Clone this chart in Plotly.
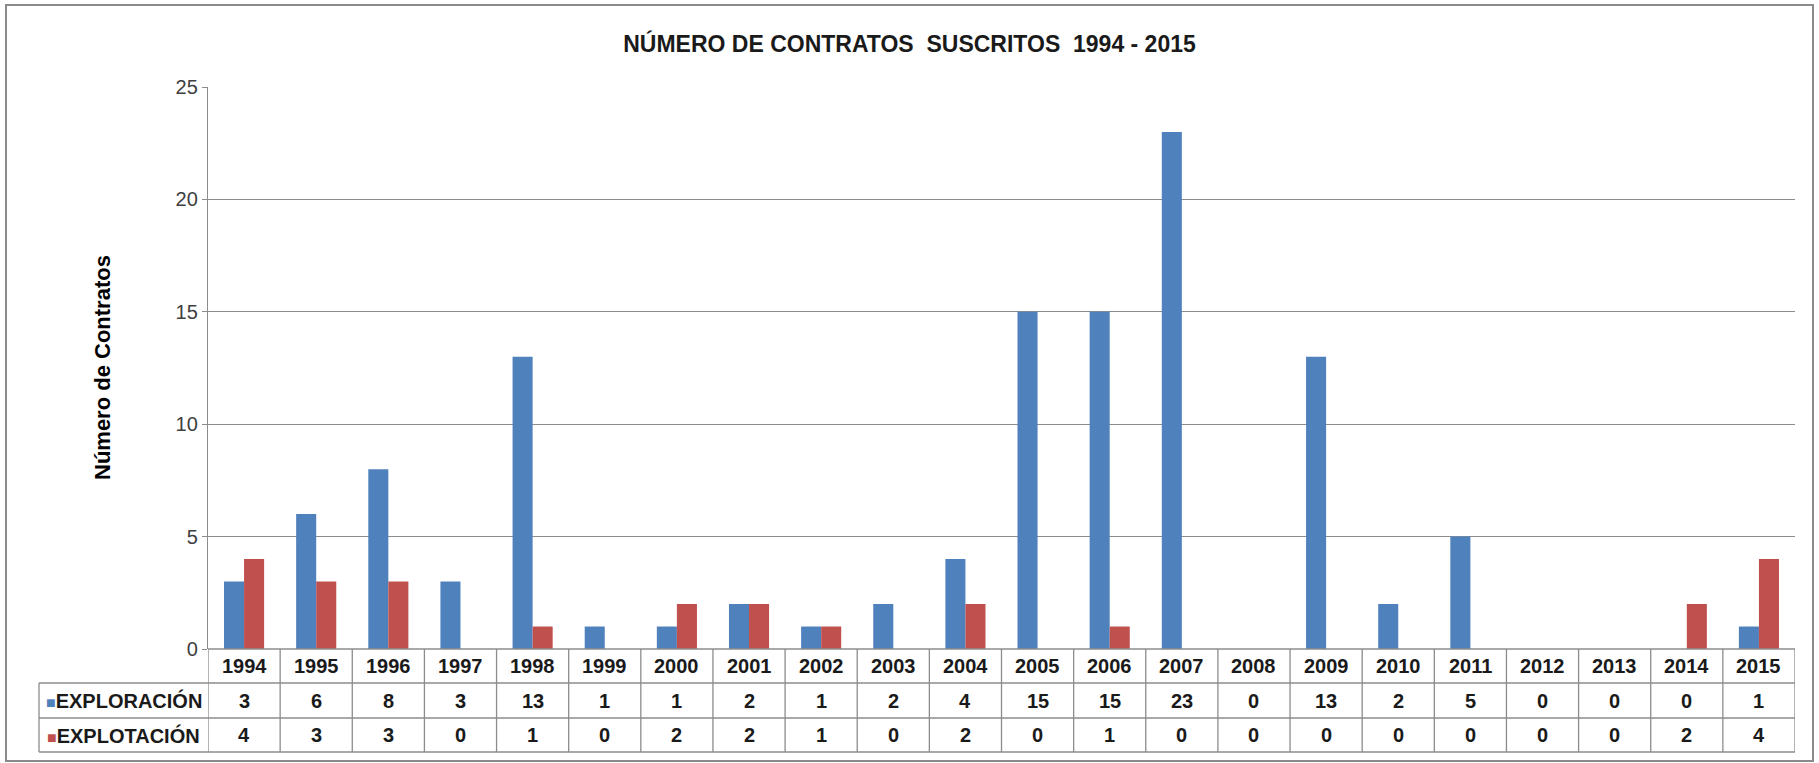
import plotly.graph_objects as go

years = [str(y) for y in range(1994, 2016)]
exploracion = [3, 6, 8, 3, 13, 1, 1, 2, 1, 2, 4, 15, 15, 23, 0, 13, 2, 5, 0, 0, 0, 1]
explotacion = [4, 3, 3, 0, 1, 0, 2, 2, 1, 0, 2, 0, 1, 0, 0, 0, 0, 0, 0, 0, 2, 4]
series_names = ["EXPLORACIÓN", "EXPLOTACIÓN"]
colors = ["#4F81BD", "#C0504D"]
title_text = "NÚMERO DE CONTRATOS&nbsp;&nbsp;SUSCRITOS&nbsp;&nbsp;1994 - 2015"
y_title = "Número de Contratos"

FONT = "Liberation Sans, Arial, sans-serif"
GRID = "#8C8C8C"
W, H = 1819, 763
L, R, T, B = 208, 24, 87, 114
plot_w = W - L - R
plot_h = H - T - B


def px_to_py(ypx):
    return (H - B - ypx) / plot_h


def px_to_px(xpx):
    return (xpx - L) / plot_w


fig = go.Figure()
for name, vals, col in zip(series_names, [exploracion, explotacion], colors):
    fig.add_trace(go.Bar(x=years, y=vals, name=name, marker_color=col,
                         marker_line_width=0, showlegend=False))

row_b = [px_to_py(683), px_to_py(718), px_to_py(752)]
row_c = [px_to_py(666), px_to_py(700.5), px_to_py(735)]
lab_left = px_to_px(39)
lab_center = px_to_px(123.5)

shapes = []
line = dict(color=GRID, width=1.3)
shapes.append(dict(type="line", xref="paper", yref="paper", x0=0, x1=1, y0=0, y1=0, line=line))
for yb in row_b:
    shapes.append(dict(type="line", xref="paper", yref="paper", x0=lab_left, x1=1, y0=yb, y1=yb, line=line))
for i in range(len(years) + 1):
    shapes.append(dict(type="line", xref="x", yref="paper", x0=i - 0.5, x1=i - 0.5,
                       y0=0, y1=row_b[-1], line=line))
shapes.append(dict(type="line", xref="paper", yref="paper", x0=lab_left, x1=lab_left,
                   y0=row_b[0], y1=row_b[-1], line=line))
shapes.append(dict(type="rect", xref="paper", yref="paper",
                   x0=px_to_px(6), x1=px_to_px(1813), y0=px_to_py(5), y1=px_to_py(761),
                   line=dict(color="#8A8A8A", width=2), layer="below"))

annotations = []
cell_font = dict(family=FONT, size=20, color="#1a1a1a")
for i, yr in enumerate(years):
    annotations.append(dict(x=i, y=row_c[0], xref="x", yref="paper", text=f"<b>{yr}</b>",
                            showarrow=False, font=cell_font, xanchor="center", yanchor="middle"))
    for r, vals in enumerate([exploracion, explotacion]):
        annotations.append(dict(x=i, y=row_c[r + 1], xref="x", yref="paper",
                                text=f"<b>{vals[i]}</b>", showarrow=False, font=cell_font,
                                xanchor="center", yanchor="middle"))
for r, (name, col) in enumerate(zip(series_names, colors)):
    annotations.append(dict(x=lab_center, y=row_c[r + 1], xref="paper", yref="paper",
                            text=f"<span style='color:{col};font-size:16px'>■</span><b>{name}</b>",
                            showarrow=False, font=cell_font, xanchor="center", yanchor="middle"))
annotations.append(dict(x=px_to_px(102), y=0.5, xref="paper", yref="paper",
                        text=f"<b>{y_title}</b>", textangle=-90, showarrow=False,
                        font=dict(family=FONT, size=22, color="#000000"),
                        xanchor="center", yanchor="middle"))

fig.update_layout(
    width=W, height=H,
    margin=dict(l=L, r=R, t=T, b=B),
    paper_bgcolor="white", plot_bgcolor="white",
    barmode="group", bargap=0.444, bargroupgap=0,
    title=dict(text=f"<b>{title_text}</b>", x=0.5, xref="container", xanchor="center",
               y=1 - 44 / H, yanchor="middle",
               font=dict(family=FONT, size=23, color="#1a1a1a")),
    xaxis=dict(type="category", showticklabels=False, ticks="", showgrid=False,
               showline=False, zeroline=False, range=[-0.5, len(years) - 0.5]),
    yaxis=dict(range=[0, 25], dtick=5, showgrid=True, gridcolor=GRID, gridwidth=1.3,
               showline=True, linecolor=GRID, linewidth=1.3, zeroline=False,
               ticks="outside", ticklen=5, tickcolor=GRID,
               tickfont=dict(family=FONT, size=20, color="#404040")),
    shapes=shapes, annotations=annotations,
    font=dict(family=FONT),
)

fig.write_html("out.html", config={"displayModeBar": False},
               post_script="document.body.style.margin='0';document.body.style.overflow='hidden';")
